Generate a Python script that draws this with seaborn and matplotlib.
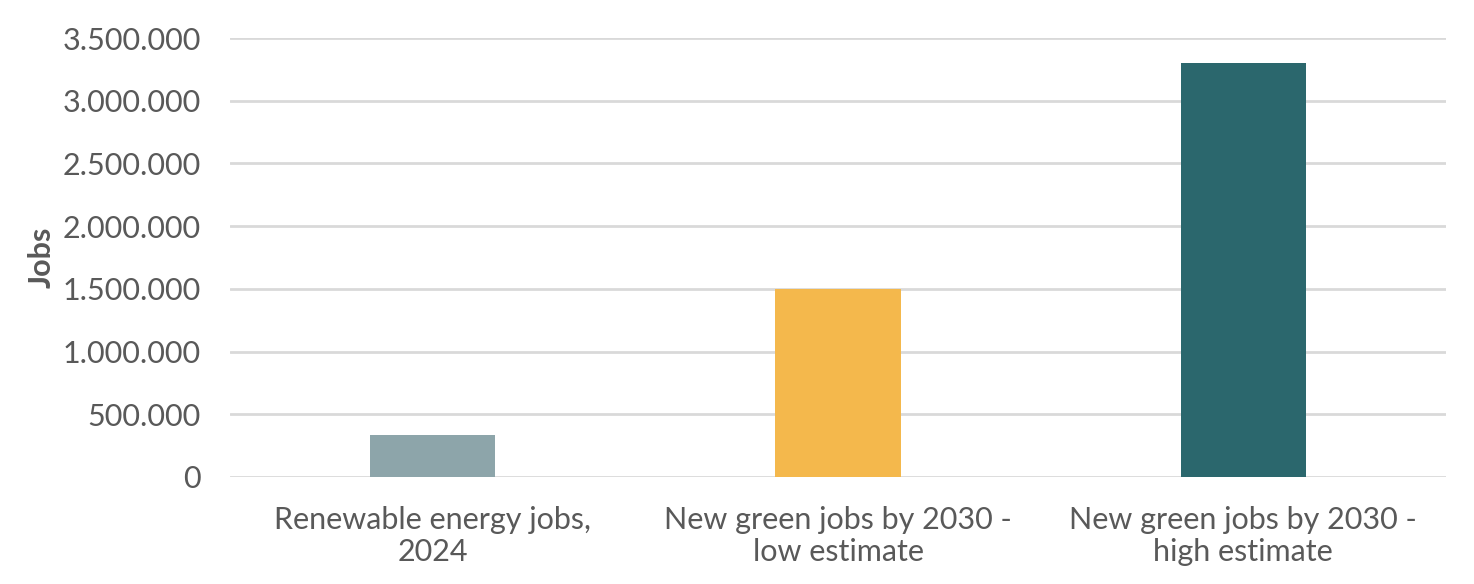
import matplotlib
matplotlib.use("Agg")
import matplotlib.pyplot as plt
import matplotlib.ticker as mticker
import seaborn as sns
import pandas as pd

categories = ["Renewable energy jobs,\n2024",
              "New green jobs by 2030 -\nlow estimate",
              "New green jobs by 2030 -\nhigh estimate"]
jobs = [336000, 1500000, 3300000]
colors = ["#8DA5AA", "#F4B84C", "#2B676D"]

sns.set_style("white")
plt.rcParams['font.family'] = ['Lato', 'DejaVu Sans']

df = pd.DataFrame({"category": categories, "jobs": jobs})

fig = plt.figure(figsize=(14.74, 5.84), dpi=100)
ax = fig.add_axes([230 / 1474, 1 - 477 / 584, 1216 / 1474, 439 / 584])

sns.barplot(data=df, x="category", y="jobs", hue="category", palette=colors,
            width=0.31, saturation=1, linewidth=0, legend=False, ax=ax, zorder=3)

ax.set_ylim(0, 3500000)
ax.set_yticks(range(0, 3500001, 500000))
ax.yaxis.set_major_formatter(mticker.FuncFormatter(lambda v, p: f"{int(v):,}".replace(",", ".")))
ax.grid(axis="y", color="#D9D9D9", linewidth=2, zorder=0)
ax.set_axisbelow(True)
for s in ax.spines.values():
    s.set_visible(False)
ax.tick_params(axis="both", length=0, labelsize=22, labelcolor="#595959")
ax.tick_params(axis="y", pad=21)
ax.tick_params(axis="x", pad=21)
for t in ax.get_xticklabels():
    t.set_linespacing(1.17)
ax.set_xlabel("")
ax.set_ylabel("Jobs", fontsize=22, fontweight="bold", color="#595959", labelpad=5)

fig.savefig("out.png", dpi=100)
